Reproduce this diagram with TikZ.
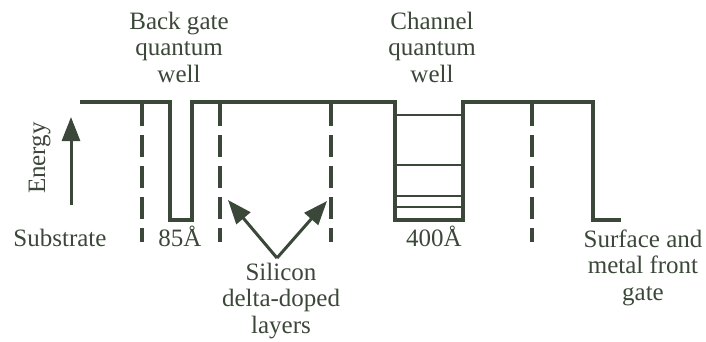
\documentclass[tikz,border=0pt]{standalone}
\usepackage{fontspec}
\setmainfont{Liberation Serif}
\usetikzlibrary{arrows.meta}
\definecolor{bandc}{RGB}{59,72,57}
\begin{document}
\begin{tikzpicture}[x=1pt,y=-1pt,
  bandline/.style={line width=4.5pt, draw=bandc, line join=miter},
  levelline/.style={line width=2.5pt, draw=bandc},
  dopeline/.style={line width=3.3pt, draw=bandc, dash pattern=on 22pt off 9pt},
  lbl/.style={text=bandc, font=\fontsize{25}{26.5}\selectfont, align=center, inner sep=0pt, anchor=base},
  arr/.style={line width=3pt, draw=bandc, -{Triangle[length=24pt,width=18pt]}}]
\useasboundingbox (0,0) rectangle (706,341);
% band edge profile
\draw[bandline] (80,102) -- (170,102) -- (170,220) -- (192,220) -- (192,102)
  -- (395,102) -- (395,220) -- (463,220) -- (463,102) -- (593,102) -- (593,220) -- (621,220);
% quantized levels in channel well
\draw[levelline] (395,115) -- (463,115);
\draw[levelline] (395,165) -- (463,165);
\draw[levelline] (395,196) -- (463,196);
\draw[levelline] (395,207) -- (463,207);
% delta-doped layers
\foreach \xx in {142,220,331,532} \draw[dopeline] (\xx,104) -- (\xx,242);
% energy axis
\coordinate (e0) at (71,205);
\coordinate (e1) at (71,117);
\draw[arr] (e0) -- (e1);
\node[lbl, rotate=90, anchor=base] (energy) at (45,158) {Energy};
% labels (base anchor = baseline of last line)
\node[lbl] (backgate) at (179,82) {Back gate\\quantum\\well};
\node[lbl] (channel) at (432,82) {Channel\\quantum\\well};
\node[lbl] (substrate) at (60,246) {Substrate};
\node[lbl] (w85) at (180,246) {85Å};
\node[lbl] (w400) at (434,246) {400Å};
\node[lbl] (silicon) at (281,333) {Silicon\\delta-doped\\layers};
\node[lbl] (surface) at (643,300) {Surface and\\metal front\\gate};
% arrows to delta layers
\coordinate (apex) at (277,258);
\coordinate (tipL) at (228,200);
\coordinate (tipR) at (327,201);
\draw[arr] (apex) -- (tipL);
\draw[arr] (apex) -- (tipR);
\end{tikzpicture}
\end{document}
